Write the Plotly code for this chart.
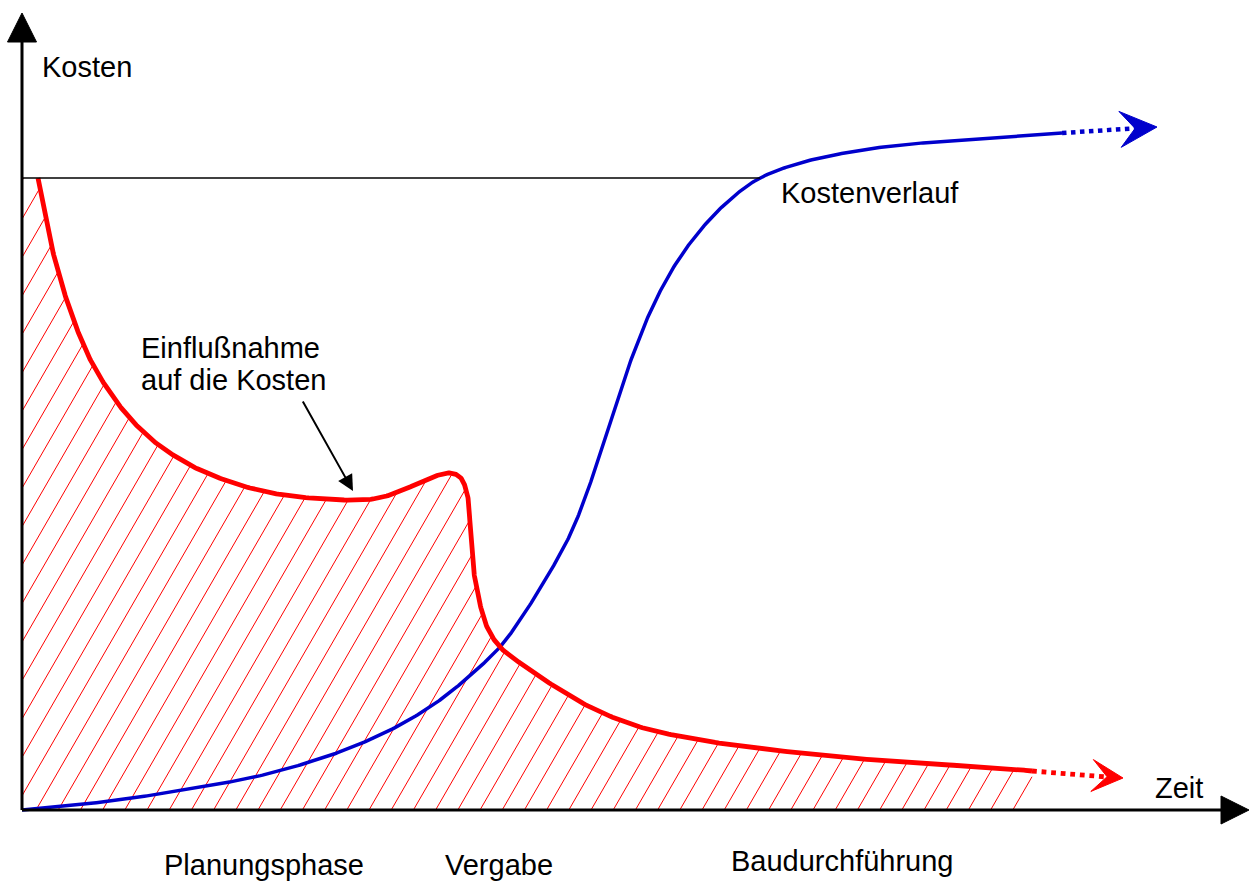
import numpy as np
import plotly.graph_objects as go

# ---------------- data (time units, cost units; schematic) ----------------
cost_time = [0, 45, 111, 178, 228, 278, 328, 378, 418, 451, 478, 498, 528, 548, 566, 581,
             596, 612, 630, 653, 681, 711, 738, 778, 828, 878, 928, 978, 1040]
cost_value = [0, 4, 12, 23, 32, 45, 62, 85, 110, 137, 163, 190, 238, 275, 320, 367,
              413, 458, 502, 545, 583, 613, 632, 647, 658, 665, 669, 673, 677]
cost_trend_time = [1040, 1118]
cost_trend_value = [677, 682]

infl_time = [16, 24, 33, 48, 66, 83, 105, 128, 145, 178, 228, 278, 351, 381, 408, 428, 438, 445,
             448, 450, 455, 465, 478, 498, 518, 568, 618, 678, 778, 878, 978, 1010]
infl_value = [632, 590, 550, 500, 455, 425, 395, 372, 359, 340, 322, 313, 311, 320, 332, 337, 333, 317,
              287, 253, 220, 183, 163, 147, 133, 103, 83, 70, 57, 48, 42, 39]
infl_trend_time = [1010, 1085]
infl_trend_value = [39, 33]

reference_level = 632
axis_time_max = 1227
axis_cost_max = 797

phase_labels = ["Planungsphase", "Vergabe", "Baudurchführung"]
phase_pos = [140, 421, 707]
phase_level = [-55, -55, -51]

RED = "#FF0000"
BLUE = "#0000CC"
FONT = "Arial, Liberation Sans, sans-serif"
FS = 29


def catmull_rom(x, y, n=24, alpha=0.5):
    P = np.column_stack([x, y]).astype(float)
    P = np.vstack([2 * P[0] - P[1], P, 2 * P[-1] - P[-2]])
    out = []
    for i in range(len(P) - 3):
        p0, p1, p2, p3 = P[i], P[i + 1], P[i + 2], P[i + 3]
        t0 = 0.0
        t1 = t0 + np.linalg.norm(p1 - p0) ** alpha
        t2 = t1 + np.linalg.norm(p2 - p1) ** alpha
        t3 = t2 + np.linalg.norm(p3 - p2) ** alpha
        t = np.linspace(t1, t2, n, endpoint=(i == len(P) - 4))[:, None]
        A1 = (t1 - t) / (t1 - t0) * p0 + (t - t0) / (t1 - t0) * p1
        A2 = (t2 - t) / (t2 - t1) * p1 + (t - t1) / (t2 - t1) * p2
        A3 = (t3 - t) / (t3 - t2) * p2 + (t - t2) / (t3 - t2) * p3
        B1 = (t2 - t) / (t2 - t0) * A1 + (t - t0) / (t2 - t0) * A2
        B2 = (t3 - t) / (t3 - t1) * A2 + (t - t1) / (t3 - t1) * A3
        C = (t2 - t) / (t2 - t1) * B1 + (t - t1) / (t2 - t1) * B2
        out.append(C)
    C = np.vstack(out)
    return C[:, 0], C[:, 1]


bx, by = catmull_rom(cost_time, cost_value)
rx, ry = catmull_rom(infl_time, infl_value)

# ---------------- hatch lines under the influence curve ----------------
rx_m = np.maximum.accumulate(rx)


def top(t):
    return np.where(t < rx_m[0], reference_level, np.interp(t, rx_m, ry))


slope = np.tan(np.radians(60))
spacing = 22.2
first = 14.0
hx, hy = [], []
t_end = infl_time[-1]
k_min = int(np.floor((-reference_level / slope - first) / spacing))
for k in range(k_min, 200):
    t0 = first + spacing * k
    if t0 > t_end:
        break
    c_start = max(0.0, -t0 * slope)
    if c_start >= reference_level:
        continue
    cs = np.arange(c_start, reference_level + 1, 0.25)
    ts = t0 + cs / slope
    inside = (ts <= t_end) & (cs <= top(ts))
    if not inside[0]:
        continue
    bad = np.where(~inside)[0]
    j = bad[0] - 1 if len(bad) else len(cs) - 1
    hx += [t0 + c_start / slope, ts[j], None]
    hy += [c_start, cs[j], None]

fig = go.Figure()
fig.add_trace(go.Scatter(x=hx, y=hy, mode="lines", line=dict(color=RED, width=1), hoverinfo="skip"))

# reference cost level
fig.add_shape(type="line", x0=0, x1=cost_time[22], y0=reference_level, y1=reference_level,
              line=dict(color="black", width=1.6))

# cost curve (blue)
fig.add_trace(go.Scatter(x=bx, y=by, mode="lines", line=dict(color=BLUE, width=3.5)))
fig.add_trace(go.Scatter(x=cost_trend_time, y=cost_trend_value, mode="lines",
                         line=dict(color=BLUE, width=4.5, dash="dot")))

# influence curve (red)
fig.add_trace(go.Scatter(x=rx, y=ry, mode="lines", line=dict(color=RED, width=4.8)))
fig.add_trace(go.Scatter(x=infl_trend_time, y=infl_trend_value, mode="lines",
                         line=dict(color=RED, width=4.8, dash="dot")))


def chevron(tip_x, tip_y, dx, dy, length, half, notch, color):
    d = np.array([dx, dy], float)
    d /= np.linalg.norm(d)
    nrm = np.array([-d[1], d[0]])
    tip = np.array([tip_x, tip_y], float)
    p1 = tip - d * length + nrm * half
    p2 = tip - d * notch
    p3 = tip - d * length - nrm * half
    pts = np.array([tip, p1, p2, p3, tip])
    fig.add_trace(go.Scatter(x=pts[:, 0], y=pts[:, 1], mode="lines", fill="toself",
                             fillcolor=color, line=dict(color=color, width=1)))


chevron(cost_trend_time[-1] + 17, cost_trend_value[-1] + 1,
        cost_trend_time[-1] - cost_trend_time[0], cost_trend_value[-1] - cost_trend_value[0],
        37, 18, 22, BLUE)
chevron(infl_trend_time[-1] + 16, infl_trend_value[-1] - 1,
        infl_trend_time[-1] - infl_trend_time[0], infl_trend_value[-1] - infl_trend_value[0],
        31, 16, 16, RED)

# axes
fig.add_shape(type="line", x0=0, x1=0, y0=0, y1=axis_cost_max - 20, line=dict(color="black", width=3))
fig.add_shape(type="line", x0=0, x1=axis_time_max - 20, y0=0, y1=0, line=dict(color="black", width=3))
fig.add_trace(go.Scatter(x=[-14.5, 14.5, 0, -14.5], y=[axis_cost_max - 29, axis_cost_max - 29, axis_cost_max, axis_cost_max - 29],
                         mode="lines", fill="toself", fillcolor="black", line=dict(color="black", width=1)))
fig.add_trace(go.Scatter(x=[axis_time_max - 28, axis_time_max - 28, axis_time_max, axis_time_max - 28], y=[-14, 14, 0, -14],
                         mode="lines", fill="toself", fillcolor="black", line=dict(color="black", width=1)))


# texts
def label(text, x, y):
    fig.add_annotation(x=x, y=y, text=text, showarrow=False, xanchor="left", yanchor="middle",
                       font=dict(family=FONT, size=FS, color="black"))


label("Kosten", 18, 743)
label("Kostenverlauf", 757, 617)
label("Einflußnahme", 117, 462)
label("auf die Kosten", 117, 430)
label("Zeit", 1131, 22)
for name, pos, lev in zip(phase_labels, phase_pos, phase_level):
    label(name, pos, lev)

fig.add_annotation(x=331, y=319, ax=280, ay=410, xref="x", yref="y", axref="x", ayref="y",
                   text="", showarrow=True, arrowhead=2, arrowsize=1.6, arrowwidth=2, arrowcolor="black")

fig.update_layout(width=1250, height=881, margin=dict(l=0, r=0, t=0, b=0),
                  paper_bgcolor="white", plot_bgcolor="white", showlegend=False,
                  xaxis=dict(visible=False, range=[-22, 1228], fixedrange=True),
                  yaxis=dict(visible=False, range=[-71, 810], fixedrange=True))

fig.write_html("out.html", config={"displayModeBar": False, "staticPlot": True},
               post_script="document.body.style.margin='0';document.body.style.overflow='hidden';")
